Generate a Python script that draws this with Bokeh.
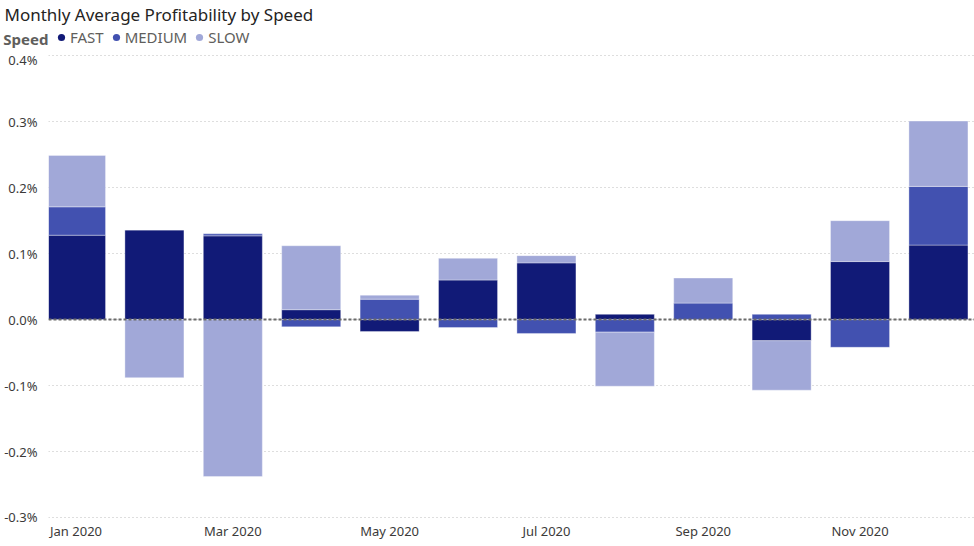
from bokeh.plotting import figure
from bokeh.layouts import column
from bokeh.models import (ColumnDataSource, Range1d, FixedTicker, PrintfTickFormatter,
                          Span, Legend, LegendItem)
from bokeh.embed import file_html
from bokeh.resources import INLINE

# Monthly average profitability (in %) by speed class
months = ["Jan 2020", "Feb 2020", "Mar 2020", "Apr 2020", "May 2020", "Jun 2020",
          "Jul 2020", "Aug 2020", "Sep 2020", "Oct 2020", "Nov 2020", "Dec 2020"]
fast = [0.128, 0.136, 0.127, 0.015, -0.018, 0.060, 0.086, 0.008, 0.000, -0.032, 0.088, 0.113]
medium = [0.043, 0.000, 0.003, -0.011, 0.031, -0.012, -0.021, -0.019, 0.025, 0.008, -0.042, 0.089]
slow = [0.078, -0.088, -0.238, 0.097, 0.006, 0.033, 0.011, -0.082, 0.038, -0.075, 0.062, 0.099]

series = [("FAST", fast, "#111A77"), ("MEDIUM", medium, "#4251B0"), ("SLOW", slow, "#A1A8D8")]
y_ticks = [-0.3, -0.2, -0.1, 0.0, 0.1, 0.2, 0.3, 0.4]
legend_caption = "Speed"

FONT = "Noto Sans"
TEXT_GRAY = "#605E5C"
AXIS_TEXT = "#3B3A39"
W = 974
HEADER_H = 50
MAIN_H = 496
LEFT = 48

# ---- header: chart title and the legend row ----
# y runs in pixels upward from the header's frame bottom; the caption sits
# on the left axis at the height of the legend row.
head = figure(width=W, height=HEADER_H, output_backend="svg", toolbar_location=None,
              x_range=Range1d(0, 1), y_range=Range1d(-12, 14),
              x_axis_location=None, y_axis_location="left",
              min_border_left=LEFT, min_border_right=0, min_border_top=0,
              min_border_bottom=0, outline_line_color=None)
head.grid.visible = False
cap_axis = head.yaxis[0]
cap_axis.ticker = FixedTicker(ticks=[0])
cap_axis.major_label_overrides = {0: legend_caption}
cap_axis.axis_line_color = None
cap_axis.major_tick_line_color = None
cap_axis.minor_tick_line_color = None
cap_axis.major_tick_out = 0
cap_axis.major_tick_in = 0
cap_axis.minor_tick_out = 0
cap_axis.minor_tick_in = 0
cap_axis.major_label_standoff = 0
cap_axis.major_label_text_font = FONT
cap_axis.major_label_text_font_size = "15px"
cap_axis.major_label_text_font_style = "bold"
cap_axis.major_label_text_color = TEXT_GRAY

head.title.text = "Monthly Average Profitability by Speed"
head.title.text_font = FONT
head.title.text_font_size = "17px"
head.title.text_font_style = "normal"
head.title.text_color = "#252423"
head.title.offset = -44
head.title.standoff = 0

legend_items = []
for name, _, color in series:
    # off-screen point: only the legend swatch is seen
    dot = head.scatter(x=[-1000], y=[-1000], marker="circle", size=9,
                       fill_color=color, line_color=None)
    legend_items.append(LegendItem(label=name, renderers=[dot]))
head.add_layout(Legend(items=legend_items, orientation="horizontal", location=(4, 3),
                       label_text_font=FONT, label_text_font_size="15px",
                       label_text_color=TEXT_GRAY, label_standoff=0,
                       glyph_width=18, glyph_height=18, spacing=3, padding=0, margin=0,
                       border_line_color=None, background_fill_alpha=0))

# ---- main chart ----
p = figure(width=W, height=MAIN_H, output_backend="svg", toolbar_location=None,
           x_range=Range1d(-0.351, 11.46), y_range=Range1d(-0.3046, 0.405),
           min_border_left=LEFT, min_border_right=0, min_border_bottom=26, min_border_top=2)
p.outline_line_color = None
p.background_fill_color = "white"
p.border_fill_color = "white"

# Diverging stack: positives pile upward from zero, negatives downward
x = list(range(len(months)))
pos_base = [0.0] * len(months)
neg_base = [0.0] * len(months)
for name, vals, color in series:
    bottoms, tops = [], []
    for i, v in enumerate(vals):
        if v >= 0:
            bottoms.append(pos_base[i]); tops.append(pos_base[i] + v); pos_base[i] += v
        else:
            bottoms.append(neg_base[i]); tops.append(neg_base[i] + v); neg_base[i] += v
    src = ColumnDataSource(dict(x=x, bottom=bottoms, top=tops))
    p.vbar(x="x", bottom="bottom", top="top", width=0.753, source=src,
           fill_color=color, line_color="white", line_alpha=0.35, line_width=1)

# Zero baseline
p.add_layout(Span(location=0, dimension="width", line_color="#6A6A6A",
                  line_dash="3 2", line_width=2))

# Axes
p.xaxis.ticker = FixedTicker(ticks=x[::2])
p.xaxis.major_label_overrides = {i: months[i] for i in x[::2]}
p.yaxis.ticker = FixedTicker(ticks=y_ticks)
p.yaxis.formatter = PrintfTickFormatter(format="%.1f%%")
for ax in (p.xaxis[0], p.yaxis[0]):
    ax.axis_line_color = None
    ax.major_tick_line_color = None
    ax.minor_tick_line_color = None
    ax.major_tick_out = 0
    ax.major_tick_in = 0
    ax.minor_tick_out = 0
    ax.minor_tick_in = 0
    ax.major_label_text_font = FONT
    ax.major_label_text_font_size = "13px"
    ax.major_label_text_color = AXIS_TEXT
p.xaxis.major_label_standoff = 1
p.yaxis.major_label_standoff = 11

p.xgrid.grid_line_color = None
p.ygrid.grid_line_color = "#BDBDBD"
p.ygrid.grid_line_dash = "1 3"
p.ygrid.grid_line_width = 1

layout = column(head, p, spacing=0)
open("out.html", "w").write(file_html(layout, INLINE))
